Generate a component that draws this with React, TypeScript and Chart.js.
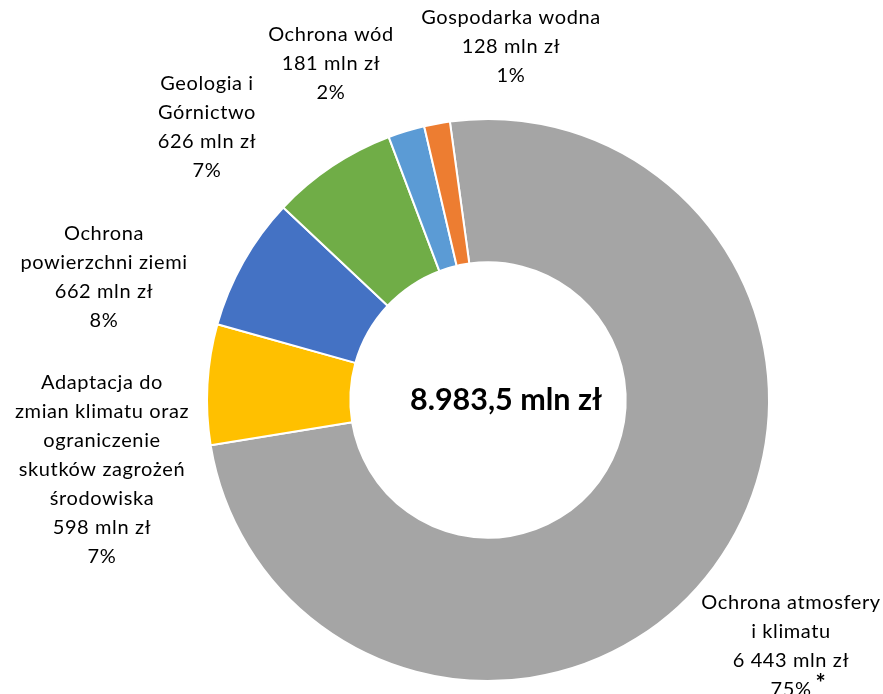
import React, { useEffect, useRef } from "react";
import { Chart, registerables } from "chart.js";

Chart.register(...registerables);

// Data
const categories: string[][] = [
  ["Ochrona atmosfery", "i klimatu"],
  ["Adaptacja do", "zmian klimatu oraz", "ograniczenie", "skutków zagrożeń", "środowiska"],
  ["Ochrona", "powierzchni ziemi"],
  ["Geologia i", "Górnictwo"],
  ["Ochrona wód"],
  ["Gospodarka wodna"],
];
const values: number[] = [6443, 598, 662, 626, 181, 128];
const colors: string[] = ["#A5A5A5", "#FFC000", "#4472C4", "#70AD47", "#5B9BD5", "#ED7D31"];
const footnotes: string[] = ["*", "", "", "", "", ""];
const centerTitle = "8.983,5 mln zł";

// Label layout: offset of first-line center from doughnut center
const labelOffsets: [number, number][] = [
  [303, 203],
  [-386, -17],
  [-384, -166],
  [-281, -316],
  [-157, -365],
  [23, -382],
];
const centerTitleOffset: [number, number] = [18, 0];

const FONT = "Lato, 'Noto Sans', sans-serif";
const LINE_H = 29;

function fmt(v: number): string {
  return String(v).replace(/\B(?=(\d{3})+(?!\d))/g, " ");
}

const labelPlugin = {
  id: "labelsPlugin",
  afterDraw(chart: any) {
    const ctx = chart.ctx;
    const meta = chart.getDatasetMeta(0);
    const arc = meta.data[0] as any;
    const cx = arc.x;
    const cy = arc.y;
    const total = values.reduce((a, b) => a + b, 0);
    ctx.save();
    ctx.fillStyle = "#000";
    ctx.textAlign = "center";
    ctx.textBaseline = "middle";
    ctx.font = `bold 30.5px ${FONT}`;
    ctx.fillText(centerTitle, cx + centerTitleOffset[0], cy + centerTitleOffset[1]);
    ctx.font = `20px ${FONT}`;
    (ctx as any).letterSpacing = "0.6px";
    values.forEach((v, i) => {
      const lines = [...categories[i], `${fmt(v)} mln zł`];
      const pct = `${Math.round((v / total) * 100)}%`;
      const [dx, dy] = labelOffsets[i];
      const x = cx + dx;
      let y = cy + dy;
      lines.forEach((l) => {
        ctx.fillText(l, x, y);
        y += LINE_H;
      });
      ctx.fillText(pct, x, y);
      if (footnotes[i]) {
        const w = ctx.measureText(pct).width;
        ctx.save();
        ctx.font = `bold 24px ${FONT}`;
        ctx.textAlign = "left";
        ctx.fillText(footnotes[i], x + w / 2 + 4, y - 6);
        ctx.restore();
      }
    });
    ctx.restore();
  },
};

export default function App() {
  const ref = useRef<HTMLCanvasElement>(null);
  useEffect(() => {
    if (!ref.current) return;
    const chart = new Chart(ref.current, {
      type: "doughnut",
      data: {
        labels: categories.map((c) => c.join(" ")),
        datasets: [
          {
            data: values,
            backgroundColor: colors,
            borderColor: "#FFFFFF",
            borderWidth: 2,
            hoverOffset: 0,
          },
        ],
      },
      options: {
        responsive: false,
        animation: false,
        cutout: "49%",
        rotation: -7.8,
        layout: { padding: { left: 206, right: 113, top: 118, bottom: 12 } },
        plugins: {
          legend: { display: false },
          tooltip: { enabled: false },
        },
      },
      plugins: [labelPlugin],
    });
    return () => chart.destroy();
  }, []);
  return (
    <div style={{ position: "absolute", left: 0, top: 0, width: 883, height: 694, background: "#fff" }}>
      <canvas ref={ref} width={883} height={694} style={{ display: "block" }} />
    </div>
  );
}
